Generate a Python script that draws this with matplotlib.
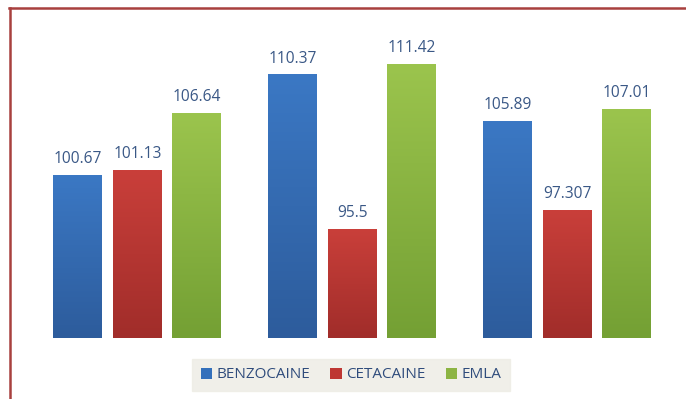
import numpy as np
import matplotlib
matplotlib.use('Agg')
import matplotlib.pyplot as plt
from matplotlib.colors import LinearSegmentedColormap
from matplotlib.lines import Line2D

plt.rcParams['font.family'] = ['Open Sans', 'DejaVu Sans']

# data
groups = ['1', '2', '3']
series = ['BENZOCAINE', 'CETACAINE', 'EMLA']
benzocaine = [100.67, 110.37, 105.89]
cetacaine = [101.13, 95.5, 97.307]
emla = [106.64, 111.42, 107.01]
labels = [['100.67', '110.37', '105.89'],
          ['101.13', '95.5', '97.307'],
          ['106.64', '111.42', '107.01']]

# colours: (top, bottom) for a vertical gradient
colors = [('#3b78c4', '#2d5c9c'), ('#c93f3a', '#a12d2a'), ('#9bc44d', '#74a034')]
solid = ['#3470bb', '#be3733', '#8cb443']
label_color = '#3a5886'

fig = plt.figure(figsize=(6.86, 3.99), dpi=100)
ax = fig.add_axes([30 / 686, 1 - 338 / 399, (674.5 - 30) / 686, (338 - 27) / 399])

x = np.arange(len(groups))
width = 0.228
offset = 0.277
values = [benzocaine, cetacaine, emla]

for i, vals in enumerate(values):
    bars = ax.bar(x + (i - 1) * offset, vals, width, bottom=0, color=solid[i], zorder=2,
                  label=series[i])
    cmap = LinearSegmentedColormap.from_list('g%d' % i, [colors[i][1], colors[i][0]])
    for j, b in enumerate(bars):
        x0, w, h = b.get_x(), b.get_width(), b.get_height()
        grad = np.linspace(0, 1, 100).reshape(-1, 1)
        ax.imshow(grad, extent=(x0, x0 + w, 85, h), origin='lower', cmap=cmap,
                  aspect='auto', zorder=3)
        ax.annotate(labels[i][j], (x0 + w / 2, h), xytext=(0, 6), textcoords='offset points',
                    ha='center', va='bottom', fontsize=11.2, color=label_color)

ax.set_xlim(-0.5, 2.5)
ax.set_ylim(85, 115)
ax.axis('off')

leg = fig.legend(loc='center', bbox_to_anchor=(351 / 686, 1 - 375 / 399), ncol=3,
                 frameon=True, fancybox=False, fontsize=11, handlelength=0.75,
                 handleheight=0.75, handletextpad=0.3, columnspacing=1.3,
                 borderpad=0.55, labelcolor='#2f4c7c')
leg.get_frame().set_facecolor('#edece4')
leg.get_frame().set_edgecolor('#edece4')

# dark red border on top and left
fig.add_artist(Line2D([9 / 686, 1], [1 - 7.5 / 399, 1 - 7.5 / 399], color='#a8403e', lw=1.8))
fig.add_artist(Line2D([9.5 / 686, 9.5 / 686], [0, 1 - 7.5 / 399], color='#a8403e', lw=1.8))

fig.savefig('out.png', dpi=100)
